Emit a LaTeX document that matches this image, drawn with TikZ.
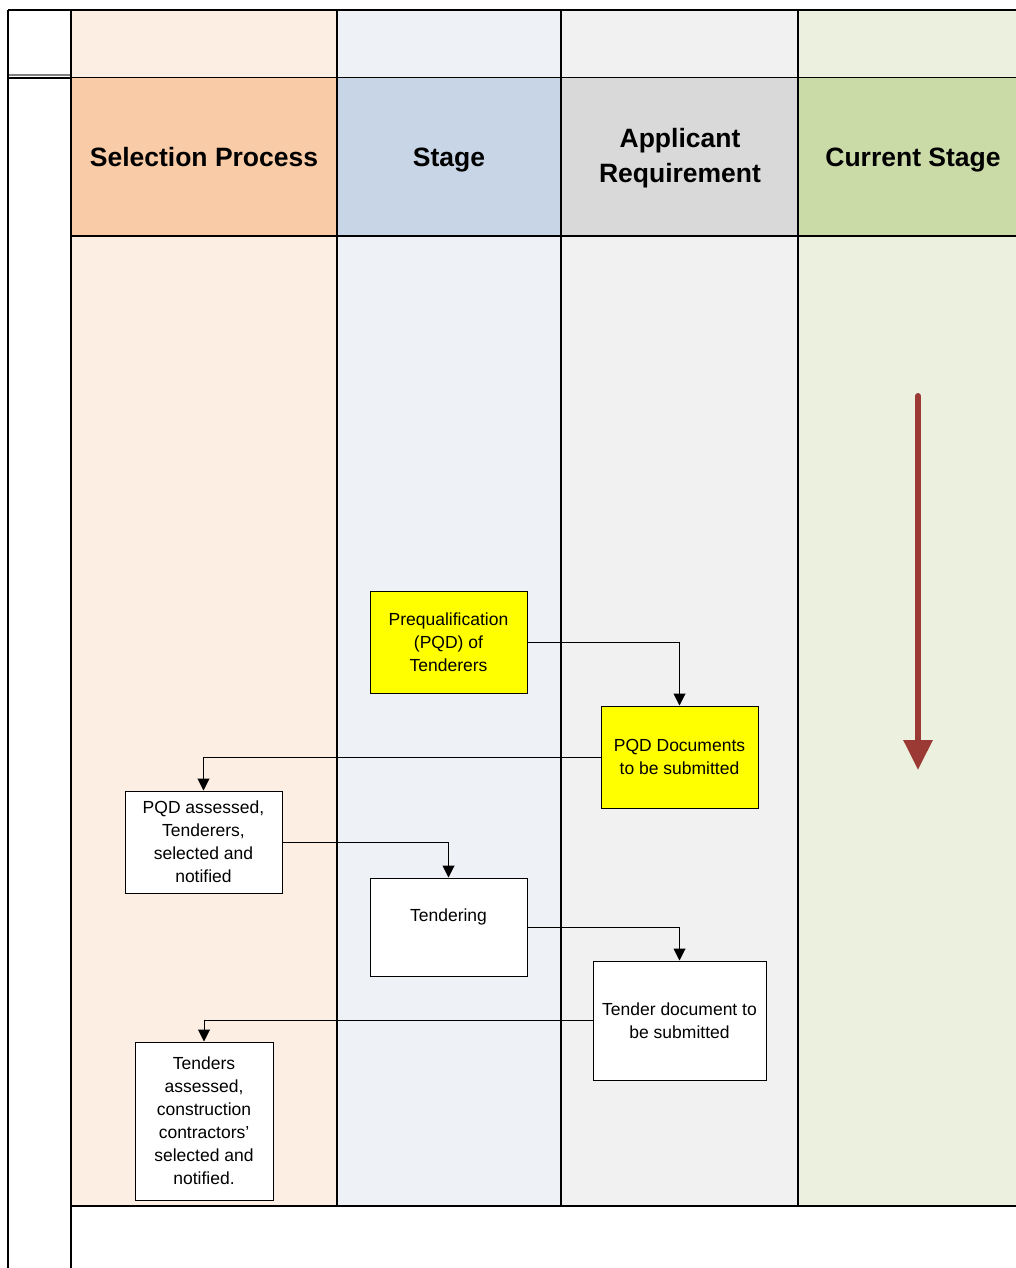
\documentclass[tikz,border=0pt]{standalone}
\usepackage{fontspec}
\setmainfont{Liberation Sans}
\usetikzlibrary{arrows.meta}
\definecolor{spTop}{HTML}{FDEEE4}
\definecolor{spHead}{HTML}{F9CBA6}
\definecolor{stTop}{HTML}{EEF1F6}
\definecolor{stHead}{HTML}{C8D5E6}
\definecolor{arTop}{HTML}{F1F1F1}
\definecolor{arHead}{HTML}{D9D9D9}
\definecolor{csTop}{HTML}{EBF0DF}
\definecolor{csHead}{HTML}{CBDBA8}
\definecolor{boxYellow}{HTML}{FFFF00}
\definecolor{redArrow}{HTML}{9B3A35}
\begin{document}
\begin{tikzpicture}[x=1pt,y=-1pt,
  box/.style={draw=black, line width=1pt, inner sep=0pt, align=center,
    font=\fontsize{17.5}{23}\selectfont, text=black},
  hdr/.style={font=\bfseries\fontsize{26.5}{35}\selectfont, align=center, text=black},
  conn/.style={draw=black, line width=1pt, -{Triangle[width=12pt,length=12pt]}},
  gridline/.style={draw=black, line width=1.3pt}]
\useasboundingbox (0,0) rectangle (1016,1268);
\fill[white] (0,0) rectangle (1016,1268);
% column fills
\fill[spTop] (71,10) rectangle (337,77);
\fill[spHead] (71,77) rectangle (337,236);
\fill[spTop] (71,236) rectangle (337,1206);
\fill[stTop] (337,10) rectangle (561,77);
\fill[stHead] (337,77) rectangle (561,236);
\fill[stTop] (337,236) rectangle (561,1206);
\fill[arTop] (561,10) rectangle (798,77);
\fill[arHead] (561,77) rectangle (798,236);
\fill[arTop] (561,236) rectangle (798,1206);
\fill[csTop] (798,10) rectangle (1016,77);
\fill[csHead] (798,77) rectangle (1016,236);
\fill[csTop] (798,236) rectangle (1016,1206);
% grid
\draw[gridline] (8,10) -- (1016,10);
\draw[gridline] (71,77.5) -- (1016,77.5);
\draw[draw=gray, line width=1.2pt] (8,75) -- (71,75);
\draw[gridline] (8,78) -- (71,78);
\draw[gridline] (71,236) -- (1016,236);
\draw[gridline] (71,1206) -- (1016,1206);
\draw[gridline] (8,10) -- (8,1268);
\draw[gridline] (71,10) -- (71,1268);
\draw[gridline] (337,10) -- (337,1206);
\draw[gridline] (561,10) -- (561,1206);
\draw[gridline] (798,10) -- (798,1206);
% headers
\node[hdr, anchor=base] (h1) at (204,166.5) {Selection Process};
\node[hdr, anchor=base] (h2) at (449,166.5) {Stage};
\node[hdr] (h3) at (680,158) {Applicant\\Requirement};
\node[hdr, anchor=base] (h4) at (913,166.5) {Current Stage};
% boxes
\node[box, fill=boxYellow, minimum width=157pt, minimum height=102pt] (pre) at (448.5,642)
  {Prequalification\\(PQD) of\\Tenderers};
\node[box, fill=boxYellow, minimum width=157pt, minimum height=102pt] (pqd) at (679.5,757)
  {PQD Documents\\to be submitted};
\node[box, fill=white, minimum width=157pt, minimum height=102pt] (asd) at (203.5,842)
  {PQD assessed,\\Tenderers,\\selected and\\notified};
\node[box, fill=white, minimum width=157pt, minimum height=98pt] (ten) at (448.5,927)
  {Tendering\\\mbox{}};
\node[box, fill=white, minimum width=173pt, minimum height=119pt] (tdoc) at (679.5,1020.5)
  {Tender document to\\be submitted};
\node[box, fill=white, minimum width=138pt, minimum height=158pt] (tas) at (204,1121)
  {Tenders\\assessed,\\construction\\contractors'\\selected and\\notified.};
% connectors
\draw[conn] (pre.east) -| (pqd.north);
\draw[conn] (pqd.west) -| (asd.north);
\draw[conn] (asd.east) -| (ten.north);
\draw[conn] (ten.east) -| (tdoc.north);
\draw[conn] (tdoc.west) -| (tas.north);
% current stage arrow
\coordinate (cs1) at (918,396);
\coordinate (cs2) at (918,770);
\draw[redArrow, line width=6pt, line cap=round, -{Triangle[width=28pt,length=30pt]}] (cs1) -- (cs2);
\end{tikzpicture}
\end{document}
